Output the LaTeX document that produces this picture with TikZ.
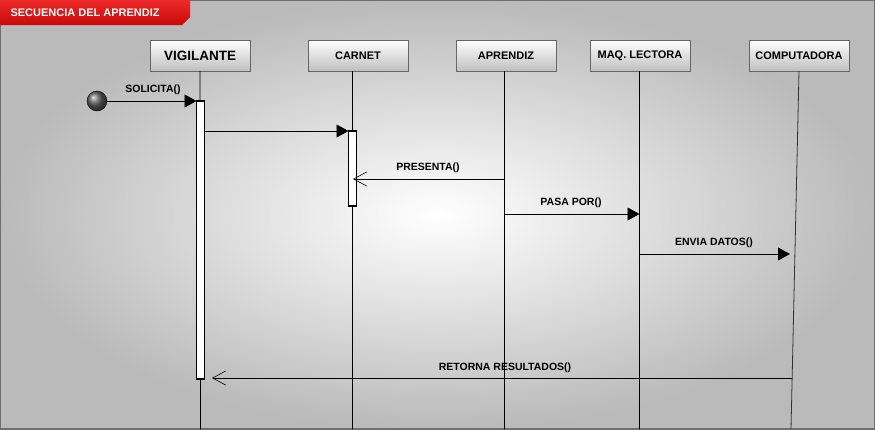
\documentclass[tikz,border=0pt]{standalone}
\usepackage{fontspec}
\setmainfont{Liberation Sans}
\usepackage{tikz}
\usetikzlibrary{
  arrows.meta,
  positioning,
  shadings
}
\definecolor{tabred}{HTML}{EE2A2A}
\definecolor{tabdark}{HTML}{C80808}
\definecolor{framegray}{HTML}{6E6E6E}
\tikzset{
  headbox/.style={draw=gray!80!black, top color=white, bottom color=gray!50,
    minimum width=100pt, minimum height=31pt, inner sep=0pt,
    align=center, font=\bfseries\fontsize{11}{13}\selectfont},
  actbar/.style={draw, line width=1.3pt, fill=white,
    minimum width=8pt, inner sep=0pt, outer sep=0pt},
  lifeline/.style={black, line width=0.8pt},
  call/.style={-{Triangle[length=12pt,width=13pt]}, line width=0.8pt},
  reply/.style={-{Straight Barb[length=13pt,width=14pt,line width=0.6pt]}, line width=0.8pt},
  msglabel/.style={font=\bfseries\fontsize{10.5}{12}\selectfont, inner sep=1pt},
}

\begin{document}
\begin{tikzpicture}[x=1pt, y=-1pt]
  \useasboundingbox (0,0) rectangle (875,429);
  % background
  \shade[inner color=white, outer color=gray!54] (0,0) rectangle (875,429);
  \draw[framegray, line width=2pt] (0,0) rectangle (875,429);

  % title tab
  \shade[top color=tabred, bottom color=tabdark]
    (0,0) -- (190,0) -- (190,17) -- (182,25) -- (0,25) -- cycle;
  \node[text=white, font=\bfseries\fontsize{11}{13}\selectfont, anchor=west] (title) at (7,13) {SECUENCIA DEL APRENDIZ};

  % lifeline heads
  \node[headbox, font=\bfseries\fontsize{13.5}{15}\selectfont] (vig) at (200,55.5) {VIGILANTE};
  \node[headbox] (carnet) at (358,55.5) {CARNET};
  \node[headbox] (aprendiz) at (506,55.5) {APRENDIZ};
  \node[headbox] (maq) at (640,55.5) {MAQ. LECTORA};
  \node[headbox] (comp) at (799,55.5) {COMPUTADORA};

  % message labels
  \node[msglabel] (lsol) at (153,90) {SOLICITA()};
  \node[msglabel] (lpres) at (428,168) {PRESENTA()};
  \node[msglabel] (lpasa) at (571,203) {PASA POR()};
  \node[msglabel] (lenvia) at (714,243) {ENVIA DATOS()};
  \node[msglabel] (lret) at (505,368) {RETORNA RESULTADOS()};

  % lifelines
  \coordinate (vigend) at (200.5,429);
  \coordinate (carend) at (352.5,429);
  \coordinate (aprend) at (504.5,429);
  \coordinate (maqend) at (639.5,429);
  \coordinate (comptop) at (799,71);
  \coordinate (compend) at (791,429);
  \draw[lifeline] (vig.south) -- (vigend);
  \draw[lifeline] (carnet.south -| carend) -- (carend);
  \draw[lifeline] (aprendiz.south -| aprend) -- (aprend);
  \draw[lifeline] (maq.south -| maqend) -- (maqend);
  \draw[lifeline, gray!40!black] (comptop) -- (compend);

  % activation bars
  \node[actbar, minimum height=278pt] (vigbar) at (200.5,240) {};
  \node[actbar, minimum height=75pt] (carbar) at (352.5,168.5) {};

  % start point
  \node[circle, draw=black, shading=ball, ball color=gray!75!black,
    minimum size=20pt, inner sep=0pt] (start) at (97,101) {};

  % messages
  \coordinate (presfrom) at (504.5,179);
  \coordinate (presto) at (353,179);
  \coordinate (pasafrom) at (504.5,214);
  \coordinate (pasato) at (639.5,214);
  \coordinate (enviafrom) at (639.5,254);
  \coordinate (enviato) at (790,254);
  \coordinate (retfrom) at (791.5,378);
  \coordinate (retto) at (212,378);

  \draw[call] (start.east) -- (vigbar.north west);
  \draw[call] (vigbar.east |- carbar.north) -- (carbar.north west);
  \draw[reply] (presfrom) -- (presto);
  \draw[call] (pasafrom) -- (pasato);
  \draw[call] (enviafrom) -- (enviato);
  \draw[reply] (retfrom) -- (retto);
\end{tikzpicture}
\end{document}
